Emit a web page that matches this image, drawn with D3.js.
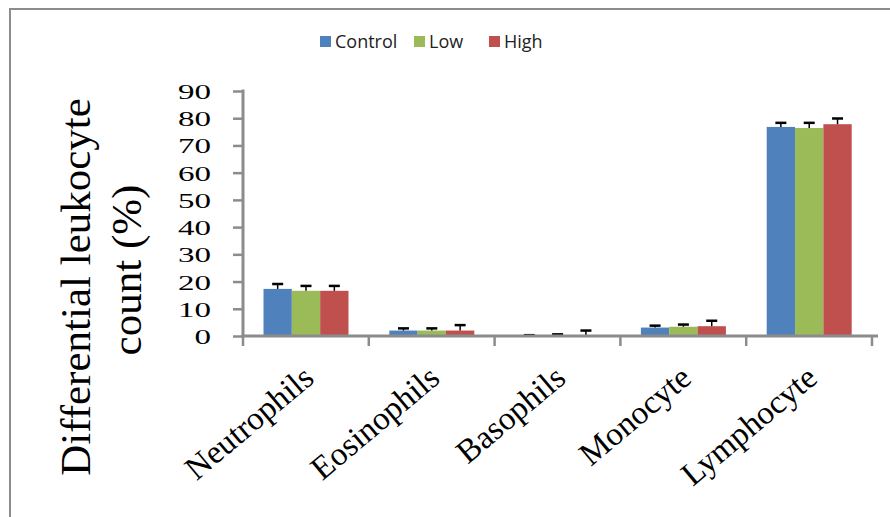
<!DOCTYPE html>
<html>
<head>
<meta charset="utf-8">
<script src="https://cdn.jsdelivr.net/npm/d3@7"></script>
<style>
  body { margin: 0; background: #fff; }
  svg { display: block; }
  .serif { font-family: "Liberation Serif", "Times New Roman", serif; }
</style>
</head>
<body>
<script>
// data
var categories = ['Neutrophils', 'Eosinophils', 'Basophils', 'Monocyte', 'Lymphocyte'];
var series = ['Control', 'Low', 'High'];
var colors = ['#4f81bd', '#9bbb59', '#c0504d'];
var controlVals = [17.3, 2.0, 0.2, 3.1, 76.8];
var lowVals     = [16.6, 2.0, 0.3, 3.4, 76.4];
var highVals    = [16.6, 2.0, 0.3, 3.6, 77.8];
var controlErr  = [1.8, 0.8, 0.1, 0.7, 1.5];
var lowErr      = [1.8, 0.8, 0.3, 0.8, 1.9];
var highErr     = [1.8, 2.0, 1.7, 2.0, 2.1];
var yTicks = [0, 10, 20, 30, 40, 50, 60, 70, 80, 90];

var W = 890, H = 517;
var svg = d3.select('body').append('svg').attr('width', W).attr('height', H);

// outer frame (runs off the right and bottom)
svg.append('path').attr('d', 'M10,' + (H + 5) + 'V9H' + (W + 5))
  .attr('fill', 'none').attr('stroke', '#8c8c8c').attr('stroke-width', 2);

var x = d3.scaleBand().domain(categories).range([243, 872]);
var xs = d3.scaleBand().domain(series).range([20.5, 105.5]);
var y = d3.scaleLinear().domain([0, 90]).range([336, 91]);

var vals = [controlVals, lowVals, highVals];
var errs = [controlErr, lowErr, highErr];

// bars
series.forEach(function (s, si) {
  var g = svg.append('g');
  g.selectAll('rect').data(categories).enter().append('rect')
    .attr('x', function (c) { return x(c) + xs(s); })
    .attr('width', xs.bandwidth())
    .attr('y', function (c, i) { return y(vals[si][i]); })
    .attr('height', function (c, i) { return y(0) - y(vals[si][i]); })
    .attr('fill', colors[si]);
});

// error bars (upward only)
series.forEach(function (s, si) {
  var g = svg.append('g').attr('stroke', '#000').attr('stroke-width', 1.5);
  categories.forEach(function (c, i) {
    var cx = x(c) + xs(s) + xs.bandwidth() / 2;
    var top = y(vals[si][i] + errs[si][i]);
    g.append('line').attr('x1', cx).attr('x2', cx).attr('y1', y(vals[si][i])).attr('y2', top);
    g.append('line').attr('x1', cx - 5.5).attr('x2', cx + 5.5).attr('y1', top).attr('y2', top).attr('stroke-width', 2.5);
  });
});

// y axis
var yAxis = svg.append('g').attr('transform', 'translate(243,0)')
  .call(d3.axisLeft(y).tickValues(yTicks).tickSize(10));
yAxis.select('.domain').attr('stroke', '#8c8c8c').attr('stroke-width', 3).attr('d', 'M0,89.5V337.5');
yAxis.selectAll('.tick line').attr('stroke', '#8c8c8c').attr('stroke-width', 2.5);
// tick labels look horizontally stretched in the picture
yAxis.selectAll('.tick text').classed('serif', true)
  .style('font-family', '"Liberation Serif", "Times New Roman", serif')
  .style('font-size', '22px').attr('fill', '#000')
  .attr('x', 0).attr('dy', '0.34em')
  .attr('transform', 'translate(-32,0) scale(1.5,1)');

// x axis
var xAxis = svg.append('g').attr('transform', 'translate(0,336)')
  .call(d3.axisBottom(x).tickSize(0).tickFormat(''));
xAxis.select('.domain').attr('stroke', '#8c8c8c').attr('stroke-width', 3).attr('d', 'M241.5,0H878');
var bounds = categories.map(function (c) { return x(c); }).concat([x.range()[1]]);
xAxis.selectAll('.bound').data(bounds).enter().append('line')
  .attr('x1', function (d) { return d; }).attr('x2', function (d) { return d; })
  .attr('y1', 0).attr('y2', 10).attr('stroke', '#8c8c8c').attr('stroke-width', 2.5);

// rotated category labels
svg.append('g').selectAll('text').data(categories).enter().append('text')
  .attr('class', 'serif')
  .attr('transform', function (c) {
    return 'translate(' + (x(c) + x.bandwidth() / 2 + 10) + ',381) rotate(-40)';
  })
  .attr('text-anchor', 'end')
  .style('font-size', '33px')
  .text(function (c) { return c; });

// y title, two lines
svg.append('text').attr('class', 'serif')
  .attr('transform', 'translate(90,287) rotate(-90)')
  .attr('text-anchor', 'middle').style('font-size', '43px')
  .text('Differential leukocyte');
svg.append('text').attr('class', 'serif')
  .attr('transform', 'translate(141,270) rotate(-90)')
  .attr('text-anchor', 'middle').style('font-size', '43px')
  .text('count (%)');

// legend
var legX = [320, 414, 489];
var leg = svg.append('g');
series.forEach(function (s, si) {
  leg.append('rect').attr('x', legX[si]).attr('y', 36).attr('width', 11).attr('height', 11).attr('fill', colors[si]);
  leg.append('text').attr('x', legX[si] + 15).attr('y', 48)
    .style('font-family', '"Open Sans", sans-serif')
    .style('font-size', '18px').attr('fill', '#222').text(s);
});
</script>
</body>
</html>
